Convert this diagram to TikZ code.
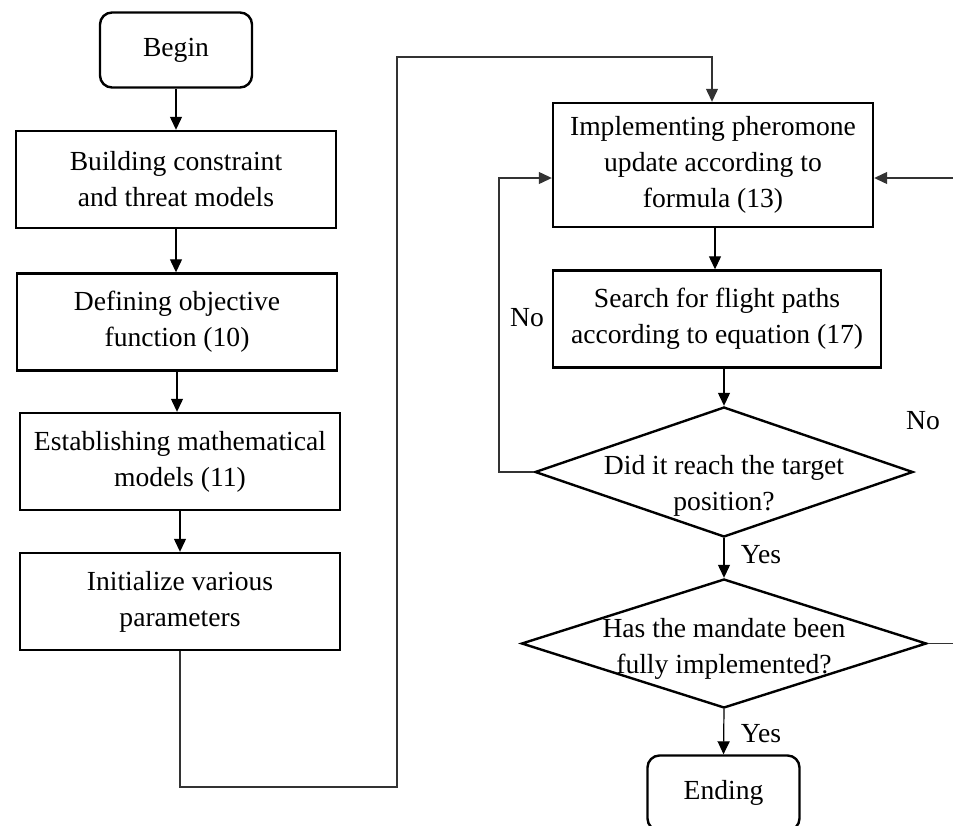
\documentclass[tikz,border=0pt]{standalone}
\usepackage{fontspec}
\setmainfont{Liberation Serif}
\usetikzlibrary{arrows.meta,shapes.geometric}
\begin{document}
\begin{tikzpicture}[x=0.5pt,y=-0.5pt,
  txt/.style={font=\fontsize{13.8}{18}\selectfont, align=center, inner sep=0pt},
  box/.style={txt, draw, line width=1.2pt, minimum width=160pt, minimum height=48.5pt},
  term/.style={box, rounded corners=6pt, minimum width=76pt, minimum height=37.5pt},
  dec/.style={draw, diamond, line width=1.2pt, inner sep=0pt},
  conn/.style={line width=0.6pt, -{Triangle[length=6.5pt,width=6pt]}},
  wire/.style={line width=0.6pt, draw=black!80},
]
\useasboundingbox (0,0) rectangle (953,825);

% left column
\node[term] (begin) at (176,50) {Begin};
\node[box] (b1) at (176,179.5) {Building constraint\\and threat models};
\node[box] (b2) at (177,322) {Defining objective\\function (10)};
\node[box] (b3) at (180,461.5) {Establishing mathematical\\models (11)};
\node[box] (b4) at (180,601.5) {Initialize various\\parameters};

% right column
\node[box, minimum height=62pt] (b5) at (713,165) {Implementing pheromone\\update according to\\formula (13)};
\node[box, minimum width=164pt] (b6) at (717,319) {Search for flight paths\\according to equation (17)};
\node[dec, minimum width=189pt, minimum height=65pt,
      label={[txt, yshift=-7pt]center:Did it reach the target\\position?}] (d1) at (724,472) {};
\node[dec, minimum width=202.5pt, minimum height=64.5pt,
      label={[txt, yshift=-2.5pt]center:Has the mandate been\\fully implemented?}] (d2) at (724,643.5) {};
\node[term] (end) at (723.5,793) {Ending};

% labels
\node[txt] (no1) at (527,318) {No};
\node[txt] (no2) at (923,421) {No};
\node[txt] (yes1) at (761,555) {Yes};
\node[txt] (yes2) at (761,734) {Yes};

% coordinates for bends
\coordinate (c1) at (180,787);
\coordinate (c2) at (397,787);
\coordinate (c3) at (397,57);
\coordinate (c4) at (712,57);
\coordinate (l1) at (499,472);
\coordinate (l2) at (499,178);
\coordinate (r1) at (965,643.5);
\coordinate (r2) at (965,178);

% left column arrows
\draw[conn] (begin.south) -- (begin.south |- b1.north);
\draw[conn] (b1.south) -- (b1.south |- b2.north);
\draw[conn] (b2.south) -- (b2.south |- b3.north);
\draw[conn] (b3.south) -- (b3.south |- b4.north);

% long connector
\draw[conn, wire] (b4.south) -- (c1) -- (c2) -- (c3) -- (c4) -- (c4 |- b5.north);

% right column arrows
\draw[conn] (b5.south -| 715,0) -- (b6.north -| 715,0);
\draw[conn] (b6.south -| d1.north) -- (d1.north);
\draw[conn] (d1.south) -- (d2.north);
\draw[conn] (d2.south) -- (end.north);

% loops
\draw[conn, wire] (d1.west) -- (l1) -- (l2) -- (l2 -| b5.west);
\draw[conn, wire] (d2.east) -- (r1) -- (r2) -- (r2 -| b5.east);
\end{tikzpicture}
\end{document}
